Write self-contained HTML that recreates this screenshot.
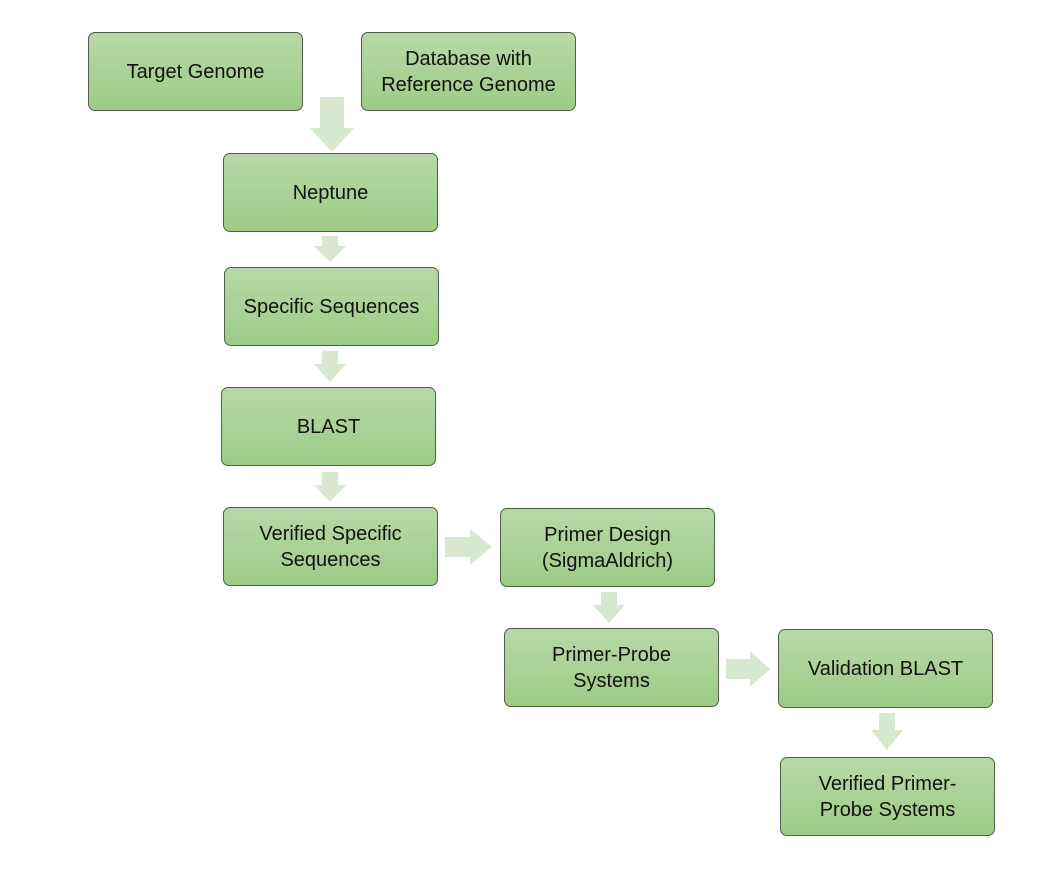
<!DOCTYPE html>
<html><head><style>
body{margin:0;width:1063px;height:884px;background:#fff;position:relative;font-family:"Liberation Sans",sans-serif;overflow:hidden}
.b{position:absolute;width:215px;height:79px;box-sizing:border-box;border:1px solid #4f5f48;border-radius:7px;background:linear-gradient(#b7d9a9,#9dcb86);display:flex;align-items:center;justify-content:center;text-align:center;font-size:20px;line-height:26px;color:#111}
svg{position:absolute;left:0;top:0}
</style></head><body>
<svg width="1063" height="884">
<g fill="#d8e8cf">
<polygon points="320,97 344,97 344,128 354,128 332,152 310,128 320,128"/>
<polygon points="322,236 338,236 338,246 346,246 330,262 314,246 322,246"/>
<polygon points="322,351 338,351 338,364 346,364 330,382 314,364 322,364"/>
<polygon points="322,472 338,472 338,485 346,485 330,502 314,485 322,485"/>
<polygon points="601,592 617,592 617,605 625,605 609,623 593,605 601,605"/>
<polygon points="879,713 895,713 895,730 903,730 887,750 871,730 879,730"/>
<polygon points="445,537 470,537 470,529 492,547 470,565 470,557 445,557"/>
<polygon points="726,659 750,659 750,651 770,669 750,687 750,679 726,679"/>
</g></svg>
<div class="b" style="left:88px;top:32px">Target Genome</div>
<div class="b" style="left:361px;top:32px">Database with<br>Reference Genome</div>
<div class="b" style="left:223px;top:153px">Neptune</div>
<div class="b" style="left:224px;top:267px">Specific Sequences</div>
<div class="b" style="left:221px;top:387px">BLAST</div>
<div class="b" style="left:223px;top:507px">Verified Specific<br>Sequences</div>
<div class="b" style="left:500px;top:508px">Primer Design<br>(SigmaAldrich)</div>
<div class="b" style="left:504px;top:628px">Primer-Probe<br>Systems</div>
<div class="b" style="left:778px;top:629px">Validation BLAST</div>
<div class="b" style="left:780px;top:757px">Verified Primer-<br>Probe Systems</div>
</body></html>
